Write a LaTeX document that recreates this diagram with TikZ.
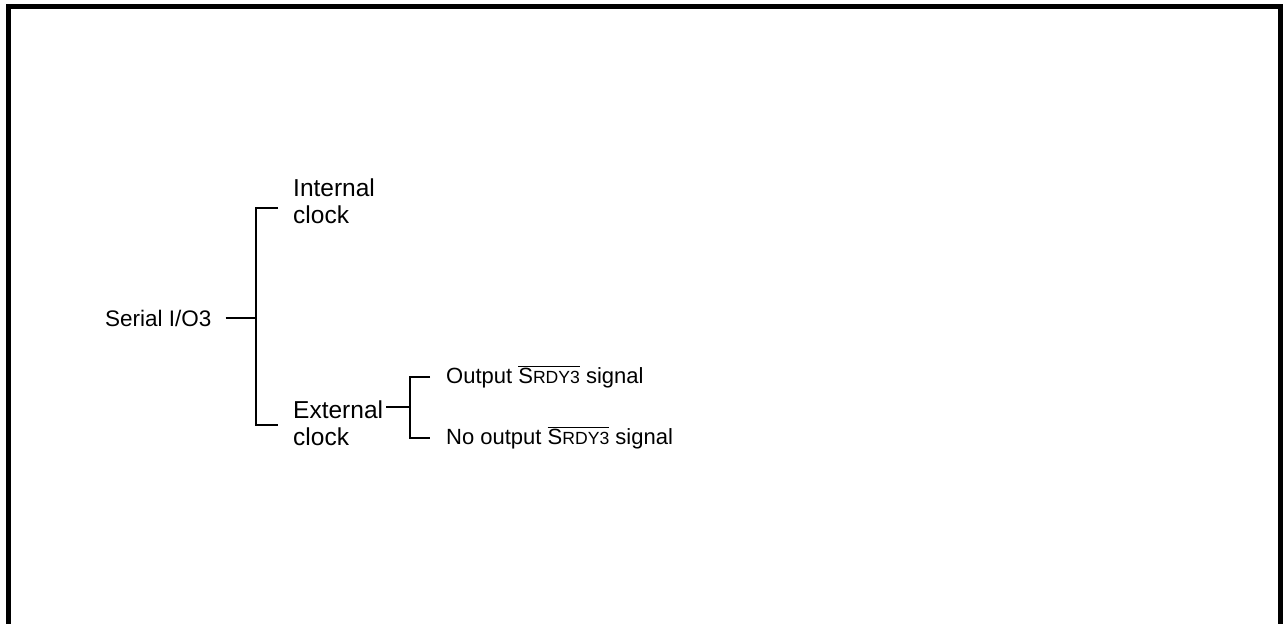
\documentclass[tikz,border=0pt]{standalone}
\usepackage{fontspec}
\setmainfont{Liberation Sans}
\begin{document}
\begin{tikzpicture}[x=1pt,y=-1pt,
  frame/.style={line width=5pt},
  conn/.style={line width=1.8pt},
  lab/.style={inner sep=0pt,anchor=west,align=left,font=\fontsize{24.5}{27}\selectfont},
  slab/.style={inner sep=0pt,anchor=west,font=\fontsize{22.5}{26}\selectfont},
  sub/.style={inner sep=0pt,anchor=west,font=\fontsize{22}{26}\selectfont}]
\useasboundingbox (0,0) rectangle (1283,624);
\draw[frame] (8.5,624) -- (8.5,6.5) -- (1280.5,6.5) -- (1280.5,624);
% nodes
\node[slab] (serial) at (105,318) {Serial I/O3};
\node[lab] (internal) at (293,201) {Internal\\clock};
\node[lab] (external) at (293,423) {External\\clock};
\newcommand{\srdy}{$\overline{\hbox{S\fontsize{17.6}{20}\selectfont RDY3}}$}
\node[sub] (out) at (446,377) {Output \srdy{} signal};
\node[sub] (noout) at (446,438) {No output \srdy{} signal};
% bracket coordinates
\coordinate (bt) at (256,208);
\coordinate (bm) at (256,318);
\coordinate (bb) at (256,425);
\coordinate (ct) at (410,377);
\coordinate (cm) at (410,407);
\coordinate (cb) at (410,438);
% connectors
\draw[conn] ([xshift=14pt]serial.east) -- (bm);
\draw[conn] (internal.west |- bt) ++(-15,0) -- (bt) -- (bb) -- ++(22,0);
\draw[conn] (386,407) -- (cm);
\draw[conn] ([xshift=-16pt]out.west) -- (ct) -- (cb) -- ([xshift=-16pt]noout.west);
\end{tikzpicture}
\end{document}
